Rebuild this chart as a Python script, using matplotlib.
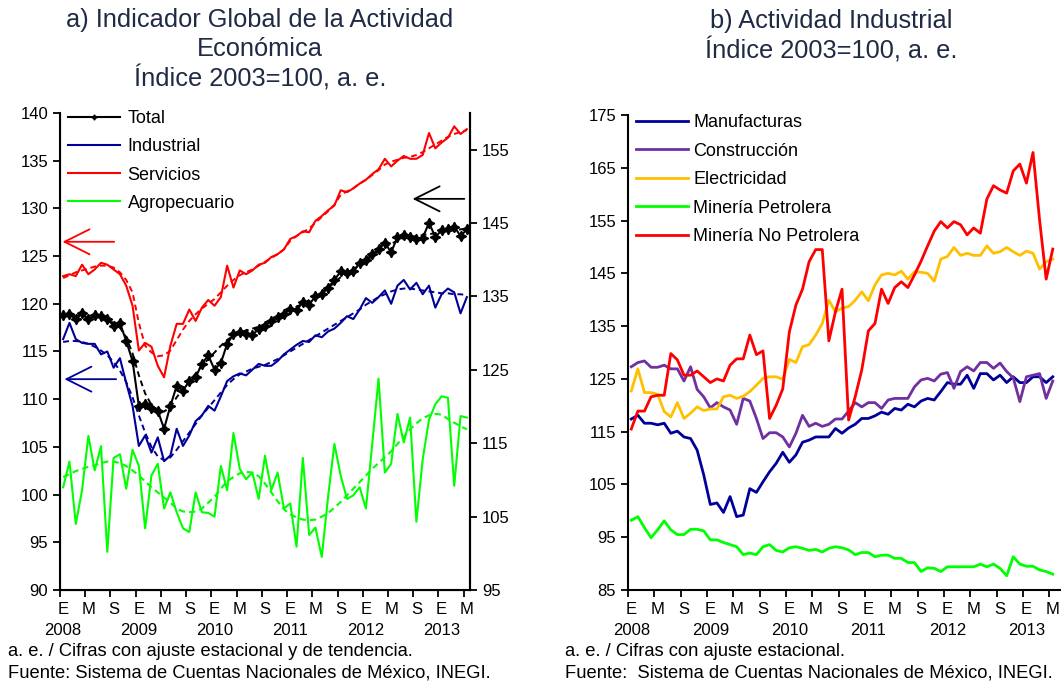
import matplotlib
matplotlib.use("Agg")
import matplotlib.pyplot as plt
import numpy as np

plt.rcParams["font.family"] = ["Liberation Sans", "DejaVu Sans"]

# monthly, Jan 2008 .. May 2013
tick_months = ["E", "M", "S"] * 5 + ["E", "M"]
tick_years = ["2008", "2009", "2010", "2011", "2012", "2013"]

# ---- panel a) Indicador Global de la Actividad Economica (a. e.)
total = [118.8, 118.9, 118.4, 119.0, 118.4, 118.8, 118.7, 118.4, 117.7, 118.0,
         116.1, 114.0, 109.3, 109.5, 109.1, 108.8, 106.9, 109.3, 111.4, 110.9,
         111.9, 112.3, 113.7, 114.6, 113.1, 113.8, 115.8, 116.8, 117.0, 116.8,
         116.7, 117.4, 117.7, 118.2, 118.6, 118.9, 119.5, 119.3, 120.2, 119.9,
         120.8, 121.0, 121.7, 122.5, 123.4, 123.2, 123.4, 124.3, 124.6, 125.2,
         125.7, 126.4, 125.4, 127.0, 127.2, 127.0, 126.8, 126.9, 128.5, 127.0,
         127.7, 127.8, 128.1, 127.1, 127.8]
total_trend = [118.7, 118.7, 118.7, 118.7, 118.6, 118.6, 118.5, 118.3, 118.0, 117.5,
               116.5, 114.8, 112.5, 110.6, 109.4, 108.8, 108.7, 109.2, 110.2, 111.1,
               111.9, 112.7, 113.5, 114.2, 114.9, 115.6, 116.2, 116.7, 117.0, 117.2,
               117.4, 117.6, 117.9, 118.2, 118.6, 119.0, 119.4, 119.7, 120.0, 120.4,
               120.8, 121.2, 121.7, 122.2, 122.8, 123.2, 123.6, 124.0, 124.5, 125.0,
               125.5, 125.9, 126.3, 126.6, 126.9, 127.0, 127.1, 127.2, 127.3, 127.4,
               127.5, 127.6, 127.7, 127.8, 127.9]
industrial = [116.3, 118.0, 116.3, 115.9, 115.8, 115.8, 114.7, 115.0, 113.3, 114.3,
              111.7, 109.3, 105.1, 106.2, 104.4, 106.0, 103.5, 104.1, 106.9, 105.1,
              106.2, 107.7, 108.3, 109.3, 108.8, 110.3, 111.9, 112.4, 112.7, 112.5,
              113.1, 113.7, 113.5, 113.5, 114.0, 114.7, 115.2, 115.7, 116.1, 116.0,
              116.7, 116.5, 117.1, 117.4, 118.0, 118.7, 118.4, 119.4, 120.6, 120.1,
              120.7, 121.4, 120.0, 121.9, 122.5, 121.5, 122.2, 121.0, 121.9, 119.6,
              121.0, 121.6, 121.2, 119.0, 120.7]
industrial_trend = [116.0, 116.1, 116.1, 116.0, 115.8, 115.5, 115.1, 114.6, 113.9, 113.0,
                    111.8, 110.2, 108.3, 106.5, 105.0, 104.0, 103.6, 103.9, 104.7, 105.6,
                    106.5, 107.4, 108.3, 109.1, 109.9, 110.7, 111.5, 112.1, 112.6, 112.9,
                    113.2, 113.4, 113.6, 113.9, 114.2, 114.6, 115.0, 115.4, 115.8, 116.2,
                    116.6, 117.0, 117.4, 117.8, 118.2, 118.6, 119.0, 119.4, 119.9, 120.3,
                    120.7, 121.0, 121.3, 121.5, 121.6, 121.6, 121.5, 121.4, 121.3, 121.2,
                    121.1, 121.1, 121.0, 121.0, 120.9]
servicios = [122.9, 123.1, 122.9, 124.1, 123.1, 123.6, 124.3, 124.1, 123.6, 123.1,
             121.9, 119.8, 115.1, 115.9, 115.5, 113.5, 112.3, 115.6, 117.9, 117.9,
             119.4, 118.2, 119.6, 120.4, 119.8, 120.7, 124.0, 121.7, 123.5, 123.1,
             123.5, 124.1, 124.3, 124.9, 125.2, 125.7, 126.8, 127.1, 127.6, 127.5,
             128.7, 129.2, 129.8, 130.3, 131.9, 131.7, 132.1, 132.6, 133.0, 133.6,
             134.1, 135.2, 134.4, 135.0, 135.5, 135.2, 135.2, 135.6, 137.9, 136.3,
             136.9, 137.4, 138.6, 137.8, 138.3]
servicios_trend = [122.7, 123.0, 123.3, 123.5, 123.7, 123.9, 124.0, 124.0, 123.8, 123.3,
                   122.5, 121.2, 118.0, 115.6, 114.9, 114.5, 114.6, 115.1, 116.2, 117.3,
                   118.2, 118.9, 119.5, 120.0, 120.5, 121.2, 121.9, 122.5, 123.0, 123.3,
                   123.6, 124.0, 124.4, 124.8, 125.2, 125.7, 126.6, 127.1, 127.5, 127.9,
                   128.5, 129.1, 129.7, 130.4, 131.4, 131.8, 132.1, 132.6, 133.0, 133.5,
                   134.0, 134.6, 134.9, 135.1, 135.3, 135.4, 135.6, 135.9, 136.3, 136.7,
                   137.1, 137.5, 137.8, 138.0, 138.2]
# Agropecuario is read on the right-hand axis
agro = [109.0, 112.5, 104.0, 108.6, 116.0, 111.3, 114.6, 100.2, 113.0, 113.5,
        108.8, 114.1, 111.9, 103.4, 110.6, 112.2, 106.1, 108.3, 105.6, 103.4,
        102.9, 108.3, 105.6, 105.5, 105.0, 111.9, 108.6, 116.4, 111.5, 110.1,
        111.0, 107.4, 113.3, 108.6, 111.0, 106.1, 106.8, 100.9, 113.0, 102.5,
        103.5, 99.5, 107.7, 114.9, 110.6, 107.4, 107.9, 109.0, 106.1, 114.9,
        123.8, 111.0, 112.2, 119.0, 115.1, 118.5, 104.3, 112.8, 118.2, 120.3,
        121.4, 121.2, 109.2, 118.7, 118.5]
agro_trend = [110.4, 110.8, 111.2, 111.5, 111.8, 112.0, 112.3, 112.5, 112.5, 112.3,
              111.9, 111.3, 110.6, 109.8, 109.0, 108.3, 107.6, 106.9, 106.1, 105.7,
              105.6, 105.7, 106.1, 106.9, 107.7, 108.8, 109.8, 110.4, 110.9, 111.1,
              111.0, 110.5, 109.5, 108.3, 107.1, 106.0, 105.3, 104.9, 104.6, 104.5,
              104.6, 105.0, 105.5, 106.2, 107.0, 107.9, 108.8, 109.7, 110.6, 111.5,
              112.3, 113.1, 113.9, 114.9, 115.9, 116.9, 117.7, 118.4, 118.8, 119.0,
              118.9, 118.3, 117.8, 117.3, 116.9]

# ---- panel b) Actividad Industrial (a. e.)
manufacturas = [117.4, 118.1, 116.6, 116.6, 116.3, 116.6, 114.7, 115.1, 114.0, 113.7,
                111.5, 106.8, 101.2, 101.5, 99.7, 102.7, 98.9, 99.2, 104.2, 103.5,
                105.5, 107.4, 109.0, 111.1, 109.2, 110.6, 113.0, 113.4, 114.0, 114.0,
                114.0, 115.6, 114.7, 115.7, 116.4, 117.5, 117.5, 118.0, 118.7, 118.3,
                119.4, 119.1, 120.2, 119.7, 120.8, 121.3, 121.0, 122.6, 124.3, 124.0,
                124.0, 125.7, 123.2, 126.0, 126.0, 124.8, 125.7, 124.3, 125.4, 124.3,
                124.3, 125.4, 125.4, 124.3, 125.4]
construccion = [127.3, 128.1, 128.4, 127.2, 127.2, 127.6, 126.9, 126.9, 124.6, 127.3,
                123.0, 121.6, 119.5, 120.5, 119.7, 119.1, 116.4, 121.3, 120.8, 117.5,
                113.7, 114.8, 114.8, 114.0, 112.1, 114.7, 118.1, 116.0, 116.6, 116.0,
                116.4, 117.4, 117.4, 118.9, 120.5, 119.7, 120.5, 120.5, 119.4, 121.0,
                121.3, 121.3, 121.3, 123.5, 124.8, 125.1, 124.6, 125.9, 126.2, 123.2,
                126.4, 127.3, 126.5, 128.1, 128.1, 127.0, 128.0, 126.4, 125.2, 120.7,
                125.4, 125.7, 126.0, 121.3, 124.6]
electricidad = [122.7, 126.9, 122.4, 122.4, 122.1, 118.8, 117.8, 120.5, 117.5, 118.5,
                119.7, 119.0, 119.3, 119.3, 121.6, 121.9, 121.3, 121.7, 122.6, 123.8,
                125.1, 125.4, 125.4, 124.9, 128.7, 128.1, 131.1, 131.5, 133.3, 135.5,
                139.9, 137.7, 138.4, 138.7, 139.9, 141.5, 139.8, 142.8, 144.7, 145.0,
                144.7, 145.4, 143.9, 145.3, 145.2, 145.0, 143.5, 147.7, 148.2, 149.9,
                148.4, 148.8, 148.4, 148.4, 150.2, 148.8, 149.1, 149.9, 149.1, 148.4,
                149.2, 148.8, 145.8, 147.2, 147.7]
petrolera = [98.2, 98.9, 96.8, 94.9, 96.4, 98.1, 96.4, 95.5, 95.5, 96.5,
             96.5, 96.2, 94.5, 94.5, 94.0, 93.6, 93.2, 91.7, 92.0, 91.7,
             93.2, 93.6, 92.5, 92.2, 93.0, 93.2, 92.9, 92.5, 92.7, 92.2,
             92.9, 93.2, 93.0, 92.6, 91.7, 92.1, 92.1, 91.3, 91.6, 91.6,
             91.0, 91.0, 90.2, 90.2, 88.5, 89.2, 89.1, 88.5, 89.4, 89.4,
             89.4, 89.4, 89.4, 89.9, 89.4, 89.9, 89.1, 87.7, 91.3, 89.9,
             89.5, 89.5, 88.8, 88.5, 88.0]
no_petrolera = [115.5, 118.9, 118.9, 121.6, 121.9, 121.9, 129.8, 128.6, 125.7, 125.7,
                126.5, 125.4, 124.3, 125.0, 124.6, 127.6, 128.8, 128.8, 133.3, 129.6,
                130.3, 117.5, 120.0, 123.1, 133.9, 139.0, 142.0, 147.2, 149.5, 149.5,
                132.2, 137.7, 142.0, 117.2, 121.6, 126.7, 134.1, 135.5, 142.0, 139.3,
                142.3, 143.4, 142.3, 144.7, 147.3, 150.2, 153.0, 154.8, 153.6, 154.8,
                154.2, 152.3, 153.6, 152.6, 159.1, 161.6, 160.8, 160.2, 164.4, 165.7,
                162.1, 167.9, 155.1, 143.9, 149.6]

TITLE_COLOR = "#1f2a44"
NAVY = "#000099"
RED = "#ff0000"
GREEN = "#00ff00"
PURPLE = "#7030a0"
ORANGE = "#ffc000"
W, H = 1061, 692


def _month_axis(ax, n, right_pad):
    ax.set_xlim(-0.5, n - 0.5 + right_pad)
    major = np.arange(0, n, 4)
    labels = []
    for k, m in enumerate(tick_months):
        labels.append(m + ("\n" + tick_years[k // 3] if k % 3 == 0 else ""))
    ax.set_xticks(major)
    ax.set_xticklabels(labels, fontsize=12, linespacing=1.45)
    ax.set_xticks(major - 0.5, minor=True)
    ax.tick_params(axis="x", which="major", length=0, pad=9)
    ax.tick_params(axis="x", which="minor", length=5, width=1.3, direction="out")
    ax.tick_params(axis="y", length=5, width=1.3, direction="out", labelsize=12)
    for s in ax.spines.values():
        s.set_linewidth(1.5)
    ax.spines["top"].set_visible(False)


def _arrow(ax, tail, head, color):
    ax.annotate("", xy=head, xytext=tail,
                arrowprops=dict(arrowstyle="->,head_length=0.9,head_width=0.45",
                                color=color, lw=1.3, mutation_scale=20,
                                shrinkA=0, shrinkB=0))


fig = plt.figure(figsize=(W / 100, H / 100), dpi=100)

# ---------------- panel a
x = np.arange(len(total))
ax = fig.add_axes([60 / W, 1 - 590 / H, 410 / W, 477 / H])
ax2 = ax.twinx()
ax.set_zorder(ax2.get_zorder() + 1)
ax.patch.set_visible(False)

ax2.plot(x, agro, color=GREEN, lw=1.5)
ax2.plot(x, agro_trend, color=GREEN, lw=1.5, ls=(0, (3, 2)))
ax2.set_ylim(95, 160)
ax2.set_yticks(np.arange(95, 156, 10))
ax2.tick_params(axis="y", length=5, width=1.3, direction="out", labelsize=12)
ax2.spines["right"].set_linewidth(1.5)
ax2.spines["top"].set_visible(False)

ax.plot(x, servicios_trend, color=RED, lw=1.4, ls=(0, (3, 2)))
ax.plot(x, industrial_trend, color=NAVY, lw=1.4, ls=(0, (3, 2)))
ax.plot(x, total_trend, color="black", lw=1.4, ls=(0, (3, 2)))
ax.plot(x, servicios, color=RED, lw=1.5, label="Servicios")
ax.plot(x, industrial, color=NAVY, lw=1.5, label="Industrial")
ax.plot(x, total, color="black", lw=1.5, marker=(4, 1, 0), ms=7.5, label="Total")
ax.plot([], [], color=GREEN, lw=1.5, label="Agropecuario")
ax.set_ylim(90, 140)
ax.set_yticks(np.arange(90, 141, 5))
_month_axis(ax, len(total), 0)
ax2.set_xlim(ax.get_xlim())

h, l = ax.get_legend_handles_labels()
order = [l.index(s) for s in ["Total", "Industrial", "Servicios", "Agropecuario"]]
ax.legend([h[i] for i in order], [l[i] for i in order], loc="upper left",
          bbox_to_anchor=(-0.02, 1.04), frameon=False, fontsize=13,
          handlelength=2.9, handletextpad=0.4, labelspacing=0.62,
          markerscale=0.5)

_arrow(ax, (8.1, 126.5), (-0.1, 126.5), RED)
_arrow(ax, (8.4, 112.1), (0.2, 112.1), NAVY)
_arrow(ax, (63.6, 131.0), (55.4, 131.0), "black")
_arrow(ax, (56.4, 95.9), (64.7, 95.9), GREEN)

for y, s in [(20, "a) Indicador Global de la Actividad"), (49, "Económica"),
             (78, "Índice 2003=100, a. e.")]:
    fig.text(260 / W, 1 - y / H, s, ha="center", va="center",
             fontsize=18.3, color=TITLE_COLOR)

fig.text(8 / W, 1 - 652 / H, "a. e. / Cifras con ajuste estacional y de tendencia.",
         fontsize=13.2, va="center")
fig.text(8 / W, 1 - 673 / H, "Fuente: Sistema de Cuentas Nacionales de México, INEGI.",
         fontsize=13.2, va="center")

# ---------------- panel b
bx = fig.add_axes([628 / W, 1 - 590 / H, 432 / W, 475 / H])
series_b = [(manufacturas, NAVY, "Manufacturas"),
            (construccion, PURPLE, "Construcción"),
            (electricidad, ORANGE, "Electricidad"),
            (petrolera, GREEN, "Minería Petrolera"),
            (no_petrolera, RED, "Minería No Petrolera")]
for vals, col, name in series_b:
    bx.plot(np.arange(len(vals)), vals, color=col, lw=2.0, label=name)
bx.set_ylim(85, 175)
bx.set_yticks(np.arange(85, 176, 10))
_month_axis(bx, len(manufacturas), 0.6)
bx.spines["right"].set_visible(False)
bx.legend(loc="upper left", bbox_to_anchor=(-0.02, 1.036), frameon=False,
          fontsize=13, handlelength=2.9, handletextpad=0.3, labelspacing=0.64)

for y, s in [(21, "b) Actividad Industrial"), (51, "Índice 2003=100, a. e.")]:
    fig.text(831 / W, 1 - y / H, s, ha="center", va="center",
             fontsize=18.3, color=TITLE_COLOR)

fig.text(565 / W, 1 - 652 / H, "a. e. / Cifras con ajuste estacional.",
         fontsize=13.2, va="center")
fig.text(565 / W, 1 - 673 / H,
         "Fuente:  Sistema de Cuentas Nacionales de México, INEGI.",
         fontsize=13.2, va="center")

fig.savefig("out.png", dpi=100)
plt.close(fig)
